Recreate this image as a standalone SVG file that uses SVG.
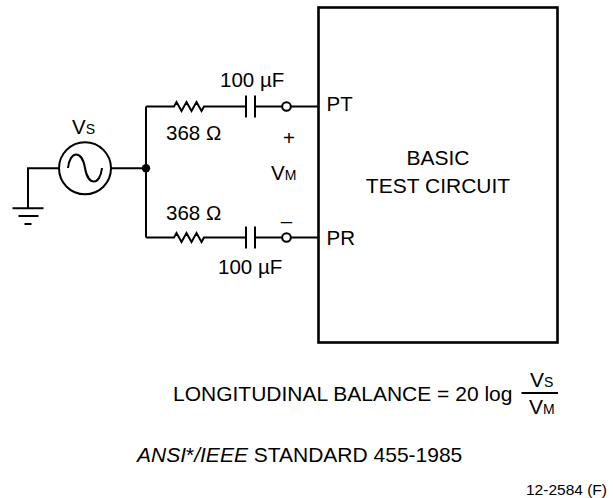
<svg xmlns="http://www.w3.org/2000/svg" width="613" height="498" viewBox="0 0 613 498">
<style>
.w{fill:none;stroke:#000;stroke-width:2}
.t{font-family:"Liberation Sans",Arial,sans-serif;font-size:20.5px;fill:#000}
.f{font-family:"Liberation Sans",Arial,sans-serif;font-size:21px;fill:#000}
.sm{font-size:14px}
.it{font-style:italic}
</style>
<rect width="613" height="498" fill="#fff"/>
<g id="connectors">
<path class="w" d="M59,168.3 H28 V208.3"/>
<path class="w" d="M111,168.3 H146"/>
<path class="w" d="M146,106.5 V237.5"/>
<path class="w" d="M146,106.5 H174 L176.5,102 L181.5,111 L186.5,102 L191.5,111 L196.5,102 L201.5,111 L204,106.5 H246"/>
<path class="w" d="M255,106.5 H282"/>
<path class="w" d="M291,106.5 H318"/>
<path class="w" d="M146,237.5 H174 L176.5,233 L181.5,242 L186.5,233 L191.5,242 L196.5,233 L201.5,242 L204,237.5 H246"/>
<path class="w" d="M255,237.5 H282"/>
<path class="w" d="M291,237.5 H318"/>
</g>
<g id="ground">
<path class="w" d="M12.5,208.3 H43.5 M18.5,216 H38.5 M24.5,224 H31.5"/>
</g>
<g id="source">
<circle class="w" cx="85" cy="168.3" r="26"/>
<path class="w" d="M68,168 C70,150 82,150 85,168 C88,186 100,186 102,168" stroke-width="1.6"/>
<text class="t" x="72" y="134">V<tspan class="sm">S</tspan></text>
</g>
<g id="junction"><circle cx="146" cy="168.3" r="4.2"/></g>
<g id="r-top"><text class="t" x="166" y="140">368 Ω</text></g>
<g id="c-top">
<path class="w" d="M246,95.5 V117.5 M255,95.5 V117.5" stroke-width="2.4"/>
<text class="t" x="220" y="87">100 µF</text>
</g>
<g id="pt-term"><circle class="w" cx="286.5" cy="106.5" r="4.3" stroke-width="1.6" fill="#fff"/></g>
<g id="r-bot"><text class="t" x="166" y="220">368 Ω</text></g>
<g id="c-bot">
<path class="w" d="M246,226.5 V248.5 M255,226.5 V248.5" stroke-width="2.4"/>
<text class="t" x="218" y="274">100 µF</text>
</g>
<g id="pr-term"><circle class="w" cx="286.5" cy="237.5" r="4.3" stroke-width="1.6" fill="#fff"/></g>
<g id="vm">
<text class="t" x="289" y="145" text-anchor="middle">+</text>
<text class="t" x="271" y="180">V<tspan class="sm">M</tspan></text>
<text class="t" x="286.5" y="228" text-anchor="middle">–</text>
</g>
<g id="box">
<rect x="318.5" y="7.5" width="239" height="335" fill="none" stroke="#000" stroke-width="2.6"/>
<text class="t" x="326.5" y="111">PT</text>
<text class="t" x="326.5" y="245">PR</text>
<text class="f" x="438" y="165" text-anchor="middle">BASIC</text>
<text class="f" x="438" y="193" text-anchor="middle">TEST CIRCUIT</text>
</g>
<g id="formula">
<text class="f" x="173" y="401">LONGITUDINAL BALANCE = 20 log</text>
<path d="M521.5,393 H558" stroke="#000" stroke-width="1.8"/>
<text class="f" x="530" y="387">V<tspan class="sm">S</tspan></text>
<text class="f" x="529" y="413.5">V<tspan class="sm">M</tspan></text>
</g>
<g id="standard">
<text class="f" x="137" y="461.5"><tspan class="it">ANSI</tspan>*<tspan class="it">/IEEE</tspan> STANDARD 455-1985</text>
</g>
<g id="figno"><text class="t" x="526" y="495" style="font-size:15.5px">12-2584 (F)</text></g>
</svg>
